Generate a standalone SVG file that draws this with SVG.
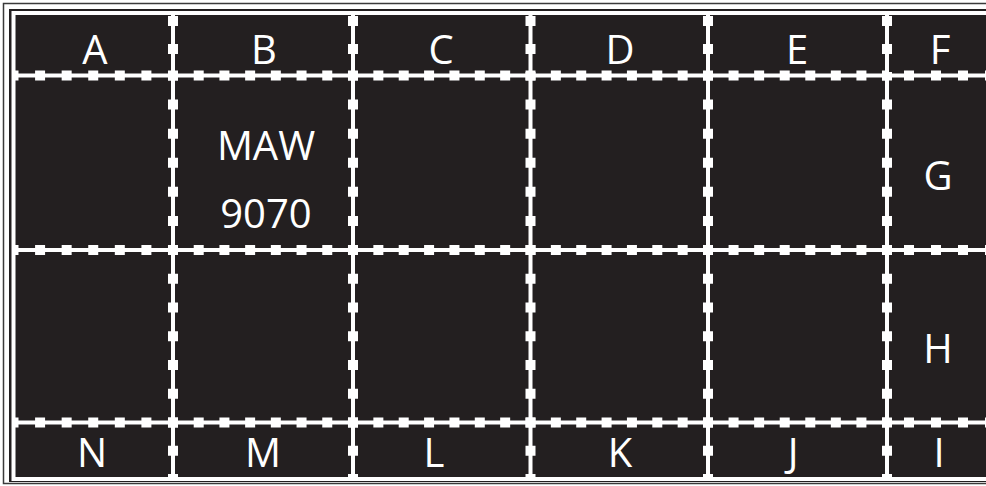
<svg xmlns="http://www.w3.org/2000/svg" width="986" height="486" viewBox="0 0 986 486">
<style>
.t{font-family:"Open Sans","Noto Sans","DejaVu Sans",sans-serif;font-size:40px;fill:#ffffff;text-anchor:middle}
.ln{stroke:#ffffff;stroke-width:4;fill:none}
.sq{stroke:#ffffff;stroke-width:10;fill:none}
</style>
<rect x="0" y="0" width="986" height="486" fill="#ffffff"/>
<rect x="3.5" y="3.5" width="1000" height="480" fill="#ffffff" stroke="#3a3a3a" stroke-width="1.5"/>
<rect x="9" y="9" width="1000" height="473" fill="#231f20"/>
<g id="frame">
<rect x="13.5" y="13" width="1000" height="466" fill="none" stroke="#ffffff" stroke-width="4"/>
</g>
<g id="connectors">
<g class="ln">
<line x1="13.5" y1="75.5" x2="986" y2="75.5"/>
<line x1="13.5" y1="250" x2="986" y2="250"/>
<line x1="13.5" y1="422.5" x2="986" y2="422.5"/>
<line x1="173" y1="13" x2="173" y2="479"/>
<line x1="353" y1="13" x2="353" y2="479"/>
<line x1="530.5" y1="13" x2="530.5" y2="479"/>
<line x1="708" y1="13" x2="708" y2="479"/>
<line x1="887" y1="13" x2="887" y2="479"/>
</g>
<g class="sq">
<path d="M13.5 75.5H173M13.5 250H173M13.5 422.5H173" stroke-dasharray="10 16.58" stroke-dashoffset="5"/>
<path d="M173 75.5H353M173 250H353M173 422.5H353" stroke-dasharray="10 15.71" stroke-dashoffset="5"/>
<path d="M353 75.5H530.5M353 250H530.5M353 422.5H530.5" stroke-dasharray="10 15.36" stroke-dashoffset="5"/>
<path d="M530.5 75.5H708M530.5 250H708M530.5 422.5H708" stroke-dasharray="10 15.36" stroke-dashoffset="5"/>
<path d="M708 75.5H887M708 250H887M708 422.5H887" stroke-dasharray="10 15.57" stroke-dashoffset="5"/>
<path d="M887 75.5H986M887 250H986M887 422.5H986" stroke-dasharray="10 17" stroke-dashoffset="10"/>
<path d="M173 13V75.5M353 13V75.5M530.5 13V75.5M708 13V75.5M887 13V75.5" stroke-dasharray="10 18" stroke-dashoffset="-3"/>
<path d="M173 75.5V250M353 75.5V250M530.5 75.5V250M708 75.5V250M887 75.5V250" stroke-dasharray="10 19.08" stroke-dashoffset="5"/>
<path d="M173 250V422.5M353 250V422.5M530.5 250V422.5M708 250V422.5M887 250V422.5" stroke-dasharray="10 18.75" stroke-dashoffset="5"/>
<path d="M173 422.5V479M353 422.5V479M530.5 422.5V479M708 422.5V479M887 422.5V479" stroke-dasharray="10 18.25" stroke-dashoffset="5"/>
</g>
</g>
<g id="A"><text class="t" x="95" y="64">A</text></g>
<g id="B"><text class="t" x="264" y="64">B</text></g>
<g id="C"><text class="t" x="441" y="64">C</text></g>
<g id="D"><text class="t" x="620" y="64">D</text></g>
<g id="E"><text class="t" x="797" y="64">E</text></g>
<g id="F"><text class="t" x="940" y="64">F</text></g>
<g id="MAW9070">
<text class="t" x="266" y="160">MAW</text>
<text class="t" x="266" y="228">9070</text>
</g>
<g id="G"><text class="t" x="938" y="190">G</text></g>
<g id="H"><text class="t" x="938" y="363">H</text></g>
<g id="N"><text class="t" x="92" y="467">N</text></g>
<g id="M"><text class="t" x="263" y="467">M</text></g>
<g id="L"><text class="t" x="434" y="467">L</text></g>
<g id="K"><text class="t" x="620" y="467">K</text></g>
<g id="J"><text class="t" x="793" y="467">J</text></g>
<g id="I"><text class="t" x="939" y="467">I</text></g>
</svg>
